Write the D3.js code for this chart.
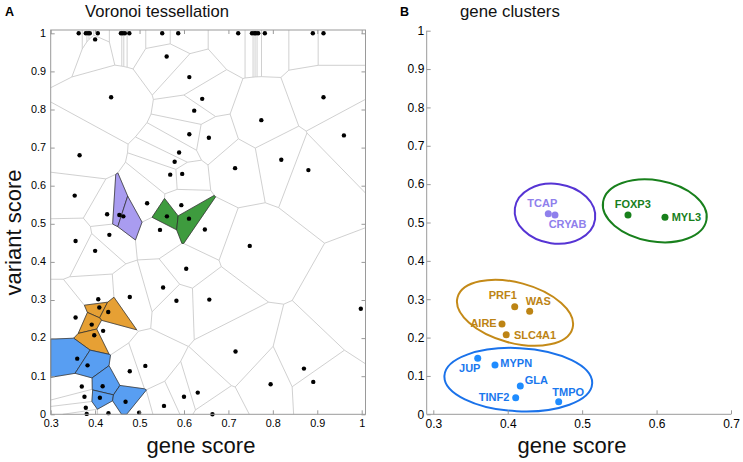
<!DOCTYPE html>
<html>
<head>
<meta charset="utf-8">
<script src="https://cdn.jsdelivr.net/npm/d3@7"></script>
<style>
  html, body { margin: 0; padding: 0; background: #fff; }
  svg { display: block; font-family: "Liberation Sans", Arial, Helvetica, sans-serif; }
</style>
</head>
<body>
<svg id="chart" width="743" height="462"></svg>
<script>
// ---------------- DATA ----------------
const clusterNames = ["purple", "green", "orange", "blue"];
const geneNames   = ["TCAP", "CRYAB", "FOXP3", "MYL3", "PRF1", "WAS", "AIRE", "SLC4A1", "JUP", "MYPN", "GLA", "TINF2", "TMPO"];
const geneScore   = [0.4545, 0.4635, 0.5616, 0.6113, 0.4094, 0.4295, 0.3923, 0.3980, 0.3597, 0.3829, 0.4169, 0.4107, 0.4685];
const variantScore= [0.523, 0.5196, 0.5196, 0.5135, 0.2805, 0.2685, 0.2354, 0.2075, 0.146, 0.1285, 0.0738, 0.0433, 0.0329];
const geneCluster = [0, 0, 1, 1, 2, 2, 2, 2, 3, 3, 3, 3, 3];

// other genes (Voronoi panel)
const otherGeneScore = [
  0.363, 0.379, 0.384, 0.388, 0.406, 0.458, 0.462, 0.467, 0.477, 0.551, 0.587, 0.722, 0.753, 0.758, 0.762, 0.767, 0.782, 0.890, 0.914,
  0.400, 0.561, 0.612, 0.436, 0.641, 0.914, 0.623, 0.774, 0.612, 0.656, 0.960, 0.365, 0.589, 0.579, 0.715, 0.819, 0.880, 0.569, 0.596,
  0.354, 0.517, 0.594, 0.427, 0.356, 0.400, 0.432, 0.546, 0.647, 0.748, 0.605, 0.553, 0.478, 0.583, 0.657, 0.998, 0.407, 0.418, 0.356,
  0.478, 0.513, 0.370, 0.376, 0.379, 0.381, 0.430, 0.499, 0.555, 0.600, 0.631, 0.664, 0.716, 0.870, 0.891, 0.795
];
const otherVariantScore = [
  1, 1, 1, 1, 1, 1, 1, 1, 1, 1, 1, 1, 1, 1, 1, 1, 1, 1, 1,
  0.984, 0.939, 0.885, 0.832, 0.828, 0.832, 0.797, 0.772, 0.735, 0.726, 0.732, 0.680, 0.687, 0.663, 0.646, 0.668, 0.641, 0.629, 0.631,
  0.574, 0.554, 0.549, 0.525, 0.455, 0.429, 0.471, 0.484, 0.485, 0.442, 0.382, 0.333, 0.308, 0.298, 0.301, 0.277, 0.302, 0.219, 0.254,
  0.113, 0.127, 0.073, 0.046, 0.017, 0.001, 0.003, 0.004, 0.022, 0.046, 0.057, 0.000, 0.165, 0.120, 0.085, 0.079
];

// cluster ellipses (data units: centre, semi-axes; tilt in degrees)
const ellipseCx   = [0.4635, 0.5976, 0.4098, 0.4142];
const ellipseCy   = [0.523, 0.5305, 0.2646, 0.0902];
const ellipseRx   = [0.0544, 0.0705, 0.0800, 0.0994];
const ellipseRy   = [0.0777, 0.0798, 0.0787, 0.0824];
const ellipseTilt = [8, 10, 15, 3];

const tickValuesA_x = [0.3, 0.4, 0.5, 0.6, 0.7, 0.8, 0.9, 1];
const tickValuesB_x = [0.3, 0.4, 0.5, 0.6, 0.7];
const tickValuesY   = [0, 0.1, 0.2, 0.3, 0.4, 0.5, 0.6, 0.7, 0.8, 0.9, 1];

// ---------------- STYLE ----------------
const cellFill   = ["#a99cf0", "#3e9b3e", "#e6a034", "#589ef2"];
const pointColB  = ["#8f80ec", "#18801c", "#bd8414", "#1f8cff"];
const textColB   = ["#8f80ec", "#18801c", "#bd8414", "#1a78ee"];
const ellipseCol = ["#5634d4", "#18801c", "#c48a18", "#1a72ea"];
// label offsets in px relative to point [dx, dy, anchor]
const labelOff = {
  TCAP: [-21, -7, "start"], CRYAB: [-6.3, 13, "start"], FOXP3: [-13.3, -7, "start"], MYL3: [6.7, 3.4, "start"],
  PRF1: [-26, -7.4, "start"], WAS: [-4, -6.6, "start"], AIRE: [-5.3, 2.7, "end"], SLC4A1: [7.7, 4, "start"],
  JUP: [-18.7, 13.4, "start"], MYPN: [5.3, 1.7, "start"], GLA: [4.4, -2, "start"], TINF2: [-6.4, 3.6, "end"], TMPO: [-6.4, -5.7, "start"]
};
const axisGray = "#9a9a9a";

const svg = d3.select("#chart");

// ================ PANEL A ================
const xA = d3.scaleLinear([0.3, 1], [50.7, 361.7]);
const yA = d3.scaleLinear([0, 1], [414.3, 33.3]);
const boxA = [50.7, 30, 365.5, 414.3];

const genes = geneNames.map((n, i) => ({name: n, x: geneScore[i], y: variantScore[i], c: geneCluster[i]}));
const others = otherGeneScore.map((x, i) => ({name: null, x, y: otherVariantScore[i], c: -1}));
const allPts = genes.concat(others);

const delaunay = d3.Delaunay.from(allPts, d => xA(d.x), d => yA(d.y));
const vor = delaunay.voronoi(boxA);

const gA = svg.append("g");
gA.append("path").attr("d", vor.render())
  .attr("fill", "none").attr("stroke", "#cbcbcb").attr("stroke-width", 0.9);

genes.forEach((g, i) => {
  gA.append("path").attr("d", vor.renderCell(i))
    .attr("fill", cellFill[g.c]).attr("stroke", "#2a2a2a").attr("stroke-width", 0.7)
    .attr("stroke-linejoin", "round");
});

gA.selectAll("circle.pt").data(allPts).join("circle")
  .attr("class", "pt")
  .attr("cx", d => xA(d.x)).attr("cy", d => yA(d.y)).attr("r", 2.2).attr("fill", "#000");

// box + ticks
gA.append("rect").attr("x", boxA[0]).attr("y", boxA[1])
  .attr("width", boxA[2] - boxA[0]).attr("height", boxA[3] - boxA[1])
  .attr("fill", "none").attr("stroke", axisGray).attr("stroke-width", 1);

function styleAxis(sel, fs) {
  sel.select(".domain").remove();
  sel.selectAll(".tick line").attr("stroke", axisGray);
  sel.selectAll(".tick text").attr("fill", "#000").style("font-size", fs + "px")
     .style("font-family", "'Liberation Sans', Arial, Helvetica, sans-serif");
}
const fmt = d3.format("");
svg.append("g").attr("transform", `translate(0,${boxA[3]})`)
  .call(d3.axisBottom(xA).tickValues(tickValuesA_x).tickSize(-4).tickPadding(5.2).tickFormat(fmt))
  .call(s => styleAxis(s, 10.8));
svg.append("g").attr("transform", `translate(0,${boxA[1]})`)
  .call(d3.axisTop(xA).tickValues(tickValuesA_x).tickSize(-4).tickFormat(""))
  .call(s => styleAxis(s, 10.8));
svg.append("g").attr("transform", `translate(${boxA[0]},0)`)
  .call(d3.axisLeft(yA).tickValues(tickValuesY).tickSize(-4).tickPadding(4.7).tickFormat(fmt))
  .call(s => styleAxis(s, 10.8))
  .call(s => s.selectAll(".tick text").attr("dy", "0.26em"));
svg.append("g").attr("transform", `translate(${boxA[2]},0)`)
  .call(d3.axisRight(yA).tickValues(tickValuesY).tickSize(-4).tickFormat(""))
  .call(s => styleAxis(s, 10.8));

// titles & labels A
svg.append("text").attr("x", 5).attr("y", 16).text("A")
  .style("font-weight", "bold").style("font-size", "12.5px");
svg.append("text").attr("x", 85).attr("y", 17).text("Voronoi tessellation")
  .style("font-size", "16.6px").attr("fill", "#111");
svg.append("text").attr("x", 201).attr("y", 452.5).attr("text-anchor", "middle").text("gene score")
  .style("font-size", "22px").attr("fill", "#111");
svg.append("text").attr("transform", "translate(21,232.5) rotate(-90)").attr("text-anchor", "middle")
  .text("variant score").style("font-size", "22px").attr("fill", "#111");

// ================ PANEL B ================
const xB = d3.scaleLinear([0.3, 0.7], [433.3, 731]);
const yB = d3.scaleLinear([0, 1], [414.3, 30.7]);
const axisXB = 426.7;

const gB = svg.append("g");
gB.append("line").attr("x1", axisXB).attr("x2", xB(0.7)).attr("y1", yB(0)).attr("y2", yB(0))
  .attr("stroke", axisGray);
gB.append("line").attr("x1", axisXB).attr("x2", axisXB).attr("y1", yB(0)).attr("y2", yB(1))
  .attr("stroke", axisGray);
svg.append("g").attr("transform", `translate(0,${yB(0)})`)
  .call(d3.axisBottom(xB).tickValues(tickValuesB_x).tickSize(-4).tickPadding(5).tickFormat(fmt))
  .call(s => styleAxis(s, 12));
svg.append("g").attr("transform", `translate(${axisXB},0)`)
  .call(d3.axisLeft(yB).tickValues(tickValuesY).tickSize(-4).tickPadding(2.4).tickFormat(fmt))
  .call(s => styleAxis(s, 12));

// ellipses
clusterNames.forEach((c, i) => {
  const cx = xB(ellipseCx[i]), cy = yB(ellipseCy[i]);
  const rx = xB(ellipseCx[i] + ellipseRx[i]) - cx;
  const ry = cy - yB(ellipseCy[i] + ellipseRy[i]);
  gB.append("ellipse")
    .attr("transform", `translate(${cx},${cy}) rotate(${ellipseTilt[i]})`)
    .attr("rx", rx).attr("ry", ry)
    .attr("fill", "none").attr("stroke", ellipseCol[i]).attr("stroke-width", 2);
});

gB.selectAll("circle.gp").data(genes).join("circle")
  .attr("class", "gp")
  .attr("cx", d => xB(d.x)).attr("cy", d => yB(d.y)).attr("r", 3.5)
  .attr("fill", d => pointColB[d.c]);

gB.selectAll("text.gl").data(genes).join("text")
  .attr("class", "gl")
  .attr("x", d => xB(d.x) + labelOff[d.name][0])
  .attr("y", d => yB(d.y) + labelOff[d.name][1])
  .attr("text-anchor", d => labelOff[d.name][2])
  .attr("fill", d => textColB[d.c])
  .style("font-weight", "bold").style("font-size", "11px")
  .text(d => d.name);

svg.append("text").attr("x", 400).attr("y", 16).text("B")
  .style("font-weight", "bold").style("font-size", "12.5px");
svg.append("text").attr("x", 460).attr("y", 16.7).text("gene clusters")
  .style("font-size", "16.8px").attr("fill", "#111");
svg.append("text").attr("x", 572).attr("y", 453).attr("text-anchor", "middle").text("gene score")
  .style("font-size", "22px").attr("fill", "#111");
</script>
</body>
</html>
